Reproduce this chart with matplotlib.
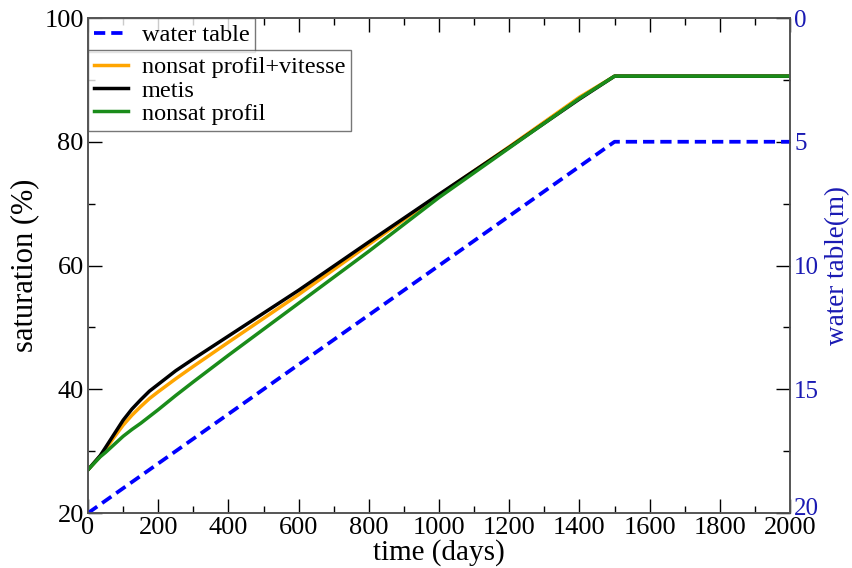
import matplotlib
matplotlib.use("Agg")
import matplotlib.pyplot as plt
import matplotlib.transforms as mtransforms
from matplotlib.ticker import MultipleLocator

plt.rcParams['font.family'] = ['Liberation Serif', 'DejaVu Serif']

# ---- data ----
days = [0, 35, 50, 75, 100, 125, 150, 175, 200, 250, 300, 400, 600, 800, 1000, 1200, 1400, 1500, 2000]
metis = [27.0, 29.3, 30.6, 32.8, 35.0, 36.8, 38.3, 39.7, 40.8, 43.0, 44.9, 48.6, 56.0, 63.8, 71.5, 79.1, 86.9, 90.6, 90.6]
nonsat_vitesse = [27.0, 29.2, 30.3, 32.3, 34.2, 35.8, 37.2, 38.5, 39.6, 41.7, 43.7, 47.6, 55.3, 63.4, 71.4, 79.2, 87.2, 90.6, 90.6]
nonsat_profil = [27.0, 29.1, 29.8, 31.1, 32.4, 33.5, 34.5, 35.6, 36.7, 39.0, 41.2, 45.5, 53.9, 62.3, 71.0, 79.0, 87.0, 90.6, 90.6]

wt_days = [0, 1500, 2000]
wt_depth = [20, 5, 5]

c_orange = '#ffa500'
c_green = '#1a8c1a'
c_blue = '#0000ff'
c_bluetext = '#1a1ab3'

fig = plt.figure(figsize=(8.53, 5.68), dpi=100)
ax = fig.add_axes([0.1032, 0.0968, 0.8230, 0.8715])
ax2 = ax.twinx()

lw = 2.5
l_or, = ax.plot(days, nonsat_vitesse, color=c_orange, lw=lw, label='nonsat profil+vitesse', zorder=3)
l_bk, = ax.plot(days, metis, color='black', lw=lw, label='metis', zorder=4)
l_gr, = ax.plot(days, nonsat_profil, color=c_green, lw=lw, label='nonsat profil', zorder=5)
l_wt, = ax2.plot(wt_days, wt_depth, color=c_blue, lw=2.7, linestyle=(0, (3.0, 1.6)), label='water table')

ax.set_xlim(0, 2000)
ax.set_ylim(20, 100)
ax2.set_ylim(20, 0)

ax.xaxis.set_major_locator(MultipleLocator(200))
ax.xaxis.set_minor_locator(MultipleLocator(100))
ax.yaxis.set_major_locator(MultipleLocator(20))
ax.yaxis.set_minor_locator(MultipleLocator(10))
ax2.yaxis.set_major_locator(MultipleLocator(5))
ax2.yaxis.set_minor_locator(MultipleLocator(2.5))

ax.tick_params(which='both', direction='in', top=True, bottom=True, left=True, right=False,
               labelsize=19, colors='black', pad=3)
ax.tick_params(which='major', length=10, width=1.0)
ax.tick_params(which='minor', length=5, width=1.0)
ax2.tick_params(which='both', direction='in', right=True, labelsize=18, labelcolor=c_bluetext, pad=3)
ax2.tick_params(which='major', length=10, width=1.0)
ax2.tick_params(which='minor', length=5, width=1.0)

for a in (ax, ax2):
    for s in a.spines.values():
        s.set_color('#555555')
        s.set_linewidth(1.2)

ax.set_xlabel('time (days)', fontsize=21, labelpad=0)
ax.set_ylabel('saturation (%)', fontsize=22, labelpad=4)
ax2.set_ylabel('water table(m)', fontsize=19.5, color=c_bluetext, labelpad=4)

leg_kw = dict(loc='upper left', borderaxespad=0, fontsize=17.5, frameon=True, fancybox=False,
              edgecolor='#555555', handlelength=1.4, handletextpad=0.55, borderpad=0.25)
leg1 = ax.legend(handles=[l_wt], bbox_to_anchor=(0, 1.0), labelspacing=0.1, **leg_kw)
leg1.get_frame().set_linewidth(1.0)
ax.add_artist(leg1)
leg2 = ax.legend(handles=[l_or, l_bk, l_gr], bbox_to_anchor=(0, 0.935), labelspacing=0.05, **leg_kw)
leg2.get_frame().set_linewidth(1.0)
leg1.set_zorder(10)
leg2.set_zorder(10)

# nudge the bottom right-axis label ("20") up slightly, as in the reference
fig.canvas.draw()
for tick in ax2.yaxis.get_major_ticks():
    if abs(tick.get_loc() - 20) < 1e-6:
        lab = tick.label2
        lab.set_transform(lab.get_transform() + mtransforms.ScaledTranslation(0, 5 / 72, fig.dpi_scale_trans))

fig.savefig('out.png', dpi=100)
